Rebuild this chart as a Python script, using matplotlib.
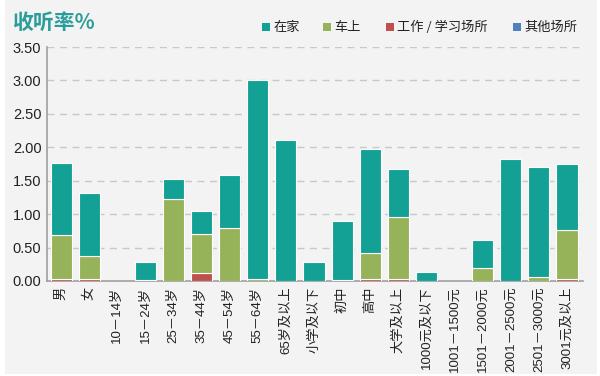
import matplotlib.pyplot as plt
from matplotlib.patches import Rectangle

plt.rcParams['font.family'] = ['Noto Sans CJK SC', 'DejaVu Sans']

categories = ["男", "女", "10－14岁", "15－24岁", "25－34岁", "35－44岁", "45－54岁",
              "55－64岁", "65岁及以上", "小学及以下", "初中", "高中", "大学及以上",
              "1000元及以下", "1001－1500元", "1501－2000元", "2001－2500元",
              "2501－3000元", "3001元及以上"]
# stacked components
work = [0.03, 0.03, 0, 0, 0, 0.12, 0, 0, 0, 0, 0, 0.03, 0.03, 0, 0, 0, 0, 0, 0.03]
car = [0.66, 0.34, 0, 0.01, 1.23, 0.59, 0.80, 0.03, 0, 0, 0.02, 0.39, 0.92, 0, 0, 0.19, 0, 0.06, 0.74]
home = [1.07, 0.94, 0, 0.28, 0.30, 0.34, 0.78, 2.97, 2.11, 0.29, 0.87, 1.55, 0.73, 0.14, 0, 0.42, 1.83, 1.65, 0.98]
other = [0] * 19

series = ["在家", "车上", "工作 / 学习场所", "其他场所"]
colors = {"在家": "#12a194", "车上": "#97b35a", "工作 / 学习场所": "#c0504d", "其他场所": "#4f7fbd"}
latin = ['Liberation Sans', 'Noto Sans CJK SC']

fig = plt.figure(figsize=(6, 3.76), dpi=100, facecolor="white")
fig.patches.append(Rectangle((5 / 600, 2 / 376), 592 / 600, 374 / 376, transform=fig.transFigure,
                             facecolor="#f3f3f3", edgecolor="none", zorder=-5))
ax = fig.add_axes([47 / 600, 1 - 281 / 376, 536 / 600, 234 / 376])
ax.set_facecolor("#f3f3f3")

x = list(range(len(categories)))
bottom = [0] * len(x)
for name, vals in [("工作 / 学习场所", work), ("车上", car), ("在家", home), ("其他场所", other)]:
    edges = ["white" if v > 0 else "none" for v in vals]
    ax.bar(x, vals, 0.75, bottom=bottom, color=colors[name], edgecolor=edges,
           linewidth=0.8, zorder=3)
    bottom = [b + v for b, v in zip(bottom, vals)]

ax.set_xlim(-0.5, 18.57)
ax.set_ylim(0, 3.5)
ticks = [i * 0.5 for i in range(8)]
ax.set_yticks(ticks)
ax.set_yticklabels([f"{t:.2f}" for t in ticks], fontsize=10.5, color="#222222", family=latin)
for t in ticks[1:]:
    ax.axhline(t, color="#c8c8c8", lw=1, ls=(0, (5, 4)), zorder=1)
ax.set_xticks(x)
ax.set_xticklabels(categories, rotation=90, fontsize=9.5, color="#222222", family=latin)
ax.tick_params(length=0, pad=4)
for s in ["top", "right"]:
    ax.spines[s].set_visible(False)
for s in ["left", "bottom"]:
    ax.spines[s].set_color("#a0a0a0")
    ax.spines[s].set_linewidth(1.2)

fig.text(12 / 600, 1 - 22 / 376, "收听率%", fontsize=15, fontweight="bold",
         color="#2a9d9a", va="center")

# legend
lx = [262, 323, 386, 513]
for name, px in zip(series, lx):
    fig.patches.append(Rectangle((px / 600, 1 - 31 / 376), 8 / 600, 8 / 376,
                                 transform=fig.transFigure, facecolor=colors[name],
                                 edgecolor="none"))
    fig.text((px + 11) / 600, 1 - 27 / 376, name, fontsize=9.5, va="center", color="#222222")

fig.savefig("out.png", dpi=100, facecolor="white")
